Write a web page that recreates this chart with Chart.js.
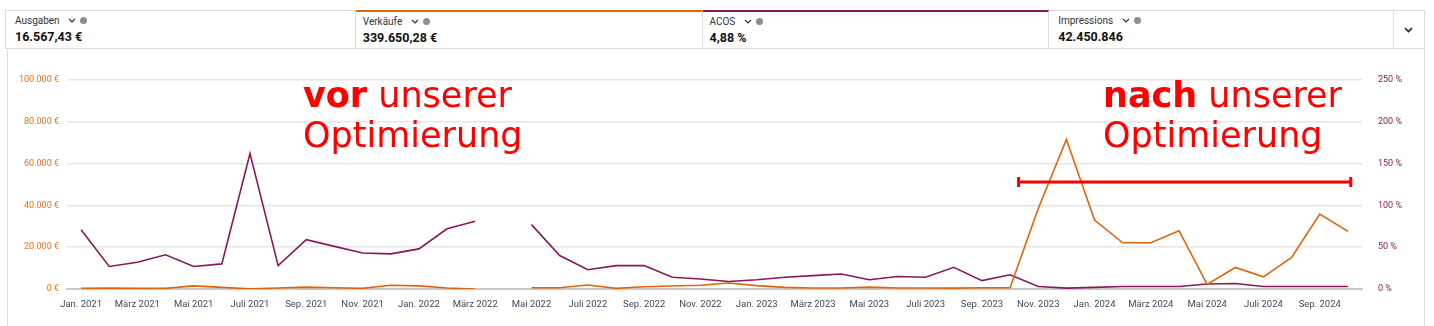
<!DOCTYPE html>
<html lang="de">
<head>
<meta charset="UTF-8">
<title>Verkäufe / ACOS</title>
<script src="https://cdn.jsdelivr.net/npm/chart.js"></script>
<style>
  body { margin: 0; background: #fff; width: 1434px; height: 326px; overflow: hidden; font-family: Roboto, "Liberation Sans", sans-serif; position: relative; }
  .kpis { position: absolute; left: 5px; top: 10px; width: 1418px; height: 37px; border: 1px solid #dcdcdc; display: flex; }
  .kpi { box-sizing: border-box; border-right: 1px solid #dcdcdc; padding: 3px 0 0 9px; position: relative; }
  .kpi .lbl { font-size: 10px; color: #333; height: 14px; line-height: 14px; }
  .kpi .lbl .chev { display: inline-block; margin-left: 6px; vertical-align: 1px; }
  .kpi .lbl .info { display: inline-block; width: 7px; height: 7px; border-radius: 50%; background: #8a8f96; margin-left: 4px; vertical-align: 0px; }
  .kpi .val { font-size: 12.5px; font-weight: bold; color: #111; margin-top: 1px; }
  .kpi.sales { border-top: 2px solid #e3630b; margin-top: -1px; padding-left: 7px; }
  .kpi.acos { border-top: 2px solid #8a1858; margin-top: -1px; padding-left: 7px; }
  .more { width: 30px; display: flex; align-items: center; justify-content: center; }
  .panel { position: absolute; left: 7px; top: 50px; width: 1416px; height: 290px; border-left: 1px solid #dcdcdc; border-right: 1px solid #dcdcdc; }
  #wrap { position: absolute; left: 8px; top: 56px; width: 1415px; height: 270px; }
  .note { position: absolute; font-family: "DejaVu Sans", sans-serif; font-size: 35px; line-height: 40px; color: #ff0000; white-space: nowrap; }
  .note b { font-weight: bold; }
</style>
</head>
<body>
<div class="kpis">
  <div class="kpi" style="width:350px"><div class="lbl">Ausgaben <svg class="chev" width="8" height="5" viewBox="0 0 8 5"><path d="M1 1 L4 4 L7 1" stroke="#333" stroke-width="1.2" fill="none"/></svg><span class="info"></span></div><div class="val">16.567,43 €</div></div>
  <div class="kpi sales" style="width:347px"><div class="lbl">Verkäufe <svg class="chev" width="8" height="5" viewBox="0 0 8 5"><path d="M1 1 L4 4 L7 1" stroke="#333" stroke-width="1.2" fill="none"/></svg><span class="info"></span></div><div class="val">339.650,28 €</div></div>
  <div class="kpi acos" style="width:347px"><div class="lbl">ACOS <svg class="chev" width="8" height="5" viewBox="0 0 8 5"><path d="M1 1 L4 4 L7 1" stroke="#333" stroke-width="1.2" fill="none"/></svg><span class="info"></span></div><div class="val">4,88 %</div></div>
  <div class="kpi" style="width:345px"><div class="lbl">Impressions <svg class="chev" width="8" height="5" viewBox="0 0 8 5"><path d="M1 1 L4 4 L7 1" stroke="#333" stroke-width="1.2" fill="none"/></svg><span class="info"></span></div><div class="val">42.450.846</div></div>
  <div class="more"><svg width="9" height="6" viewBox="0 0 9 6"><path d="M1 1 L4.5 4.5 L8 1" stroke="#222" stroke-width="1.6" fill="none"/></svg></div>
</div>
<div class="panel"></div>
<div id="wrap"><canvas id="chart"></canvas></div>
<div class="note" style="left:303px; top:75px;"><b>vor</b> unserer<br>Optimierung</div>
<div class="note" style="left:1103px; top:75px;"><b>nach</b> unserer<br>Optimierung</div>
<script>
// Monate Jan. 2021 bis Okt. 2024
const months = [
  'Jan. 2021', 'Feb. 2021', 'März 2021', 'Apr. 2021', 'Mai 2021', 'Juni 2021', 'Juli 2021', 'Aug. 2021', 'Sep. 2021', 'Okt. 2021', 'Nov. 2021', 'Dez. 2021',
  'Jan. 2022', 'Feb. 2022', 'März 2022', 'Apr. 2022', 'Mai 2022', 'Juni 2022', 'Juli 2022', 'Aug. 2022', 'Sep. 2022', 'Okt. 2022', 'Nov. 2022', 'Dez. 2022',
  'Jan. 2023', 'Feb. 2023', 'März 2023', 'Apr. 2023', 'Mai 2023', 'Juni 2023', 'Juli 2023', 'Aug. 2023', 'Sep. 2023', 'Okt. 2023', 'Nov. 2023', 'Dez. 2023',
  'Jan. 2024', 'Feb. 2024', 'März 2024', 'Apr. 2024', 'Mai 2024', 'Juni 2024', 'Juli 2024', 'Aug. 2024', 'Sep. 2024', 'Okt. 2024'
];

// Verkäufe in €
const sales = [
  300, 400, 300, 300, 1500, 800, 100, 500, 900, 600, 300, 1800,
  1500, 500, 0, null, 600, 600, 1900, 300, 1100, 1400, 1800, 2900,
  1600, 800, 500, 500, 900, 500, 500, 400, 600, 600, 38500, 71500,
  33000, 22100, 22100, 27900, 2200, 10300, 5800, 15100, 35900, 27600
];

// ACOS in %
const acos = [
  71, 27, 32, 41, 27, 30, 162, 28, 59, 51, 43, 42,
  48, 72, 81, null, 77, 40, 23, 28, 28, 14, 12, 9,
  11, 14, 16, 18, 11, 15, 14, 26, 10, 17, 3, 1,
  2, 3, 3, 3, 6, 6.5, 3, 3, 3, 3
];

const euroTicks = [0, 20000, 40000, 60000, 80000, 100000];
const pctTicks = [0, 50, 100, 150, 200, 250];

// roter Zeitraum-Balken (Kategorie-Index / ACOS-Achse)
const bracket = { from: 33.3, to: 45.1, level: 128 };

const ORANGE = '#e3630b';
const PURPLE = '#8a1858';

const bracketPlugin = {
  id: 'bracket',
  afterDatasetsDraw(chart) {
    const { ctx, scales } = chart;
    const x1 = scales.x.getPixelForValue(bracket.from);
    const x2 = scales.x.getPixelForValue(bracket.to);
    const y = scales.y1.getPixelForValue(bracket.level);
    ctx.save();
    ctx.strokeStyle = '#ff0000';
    ctx.lineWidth = 3;
    ctx.beginPath();
    ctx.moveTo(x1, y); ctx.lineTo(x2, y);
    ctx.moveTo(x1, y - 5); ctx.lineTo(x1, y + 5);
    ctx.moveTo(x2, y - 5); ctx.lineTo(x2, y + 5);
    ctx.stroke();
    ctx.restore();
  }
};

const fmtEuro = v => v.toLocaleString('de-DE') + ' €';

new Chart(document.getElementById('chart'), {
  type: 'line',
  data: {
    labels: months,
    datasets: [
      { label: 'Verkäufe', data: sales, yAxisID: 'y', borderColor: ORANGE, borderWidth: 1.6, pointRadius: 0, tension: 0 },
      { label: 'ACOS', data: acos, yAxisID: 'y1', borderColor: PURPLE, borderWidth: 1.6, pointRadius: 0, tension: 0 }
    ]
  },
  options: {
    responsive: true,
    maintainAspectRatio: false,
    animation: false,
    layout: { padding: { top: 24, left: 0, right: 0, bottom: 0 } },
    plugins: { legend: { display: false }, tooltip: { enabled: false } },
    scales: {
      x: {
        offset: true,
        grid: { display: false },
        border: { color: '#c9c9c9', width: 2 },
        afterFit: s => { s.height = 37; },
        ticks: {
          autoSkip: false, maxRotation: 0, padding: 2,
          color: '#3f4b5b', font: { family: 'Roboto', size: 9.5 },
          callback: (v, i) => i % 2 === 0 ? months[i] : ''
        }
      },
      y: {
        position: 'left', min: 0, max: 100000,
        afterBuildTicks: s => { s.ticks = euroTicks.map(v => ({ value: v })); },
        afterFit: s => { s.width = 59; },
        grid: { color: '#e6e6e6', lineWidth: 1.5, drawTicks: false },
        border: { display: false },
        ticks: { color: '#e0721c', padding: 8, font: { family: 'Roboto', size: 9 }, callback: v => fmtEuro(v) }
      },
      y1: {
        position: 'right', min: 0, max: 250,
        afterBuildTicks: s => { s.ticks = pctTicks.map(v => ({ value: v })); },
        afterFit: s => { s.width = 61; },
        grid: { display: false },
        border: { display: false },
        ticks: { color: '#8a1d5c', padding: 8, font: { family: 'Roboto', size: 9 }, callback: v => v + ' %' }
      }
    }
  },
  plugins: [bracketPlugin]
});
</script>
</body>
</html>
